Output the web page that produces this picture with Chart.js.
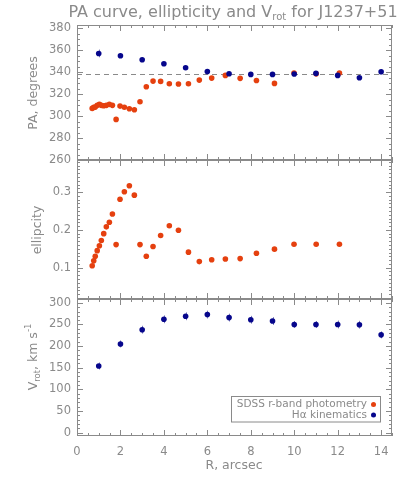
<!DOCTYPE html>
<html><head><meta charset="utf-8">
<script src="https://cdn.jsdelivr.net/npm/chart.js@4.4.1/dist/chart.umd.min.js"></script>
<style>
html,body{margin:0;padding:0;background:#fff;}
#wrap{position:relative;width:415px;height:485px;background:#fff;}
canvas{position:absolute;left:0;top:0;}
</style></head><body>
<div id="wrap">
<canvas id="c1" width="415" height="485"></canvas>
<canvas id="c2" width="415" height="485"></canvas>
<canvas id="c3" width="415" height="485"></canvas>
</div>
<script>
// ---------- data ----------
const photR   = [0.70,0.77,0.84,0.93,1.03,1.12,1.23,1.35,1.49,1.63,1.80,1.98,2.18,2.41,2.64,2.90,3.19,3.50,3.85,4.25,4.67,5.13,5.63,6.20,6.83,7.51,8.26,9.09,9.99,11.01,12.08];
const photPA  = [307.0,308.0,308.2,309.8,310.7,309.8,309.4,309.8,310.7,309.8,297.0,309.1,308.0,306.7,305.8,313.1,326.7,331.9,331.6,329.5,329.2,329.5,332.8,334.6,337.1,334.4,332.5,329.8,339.2,338.5,339.2];
const photEll = [0.105,0.118,0.130,0.145,0.158,0.172,0.190,0.208,0.220,0.242,0.161,0.281,0.301,0.317,0.292,0.161,0.130,0.156,0.185,0.211,0.199,0.141,0.116,0.121,0.123,0.124,0.138,0.149,0.162,0.162,0.162];
const haR     = [1,2,3,4,5,6,7,8,9,10,11,12,13,14];
const haPA    = [357.1,355.0,351.3,347.7,344.0,340.7,338.6,338.0,338.0,338.3,338.9,337.1,334.9,340.4];
const haPAerr = [3.5,2.0,1.8,1.5,1.5,1.5,1.5,1.5,1.5,1.5,1.5,1.8,2.0,2.2];
const haV     = [154,205,238,262,269,273,266,261,258,250,250,250,249.5,226];
const haVerr  = [8,8,9,9,9,9,9,9,9,8,8,9,9,8];
const paRef   = 338.3;
const xTicks   = [0,2,4,6,8,10,12,14];
const paTicks  = [260,280,300,320,340,360,380];
const ellTicks = [0.1,0.2,0.3];
const vTicks   = [0,50,100,150,200,250,300];
const legendLabels = ['SDSS r-band photometry','H\u03b1 kinematics'];

// ---------- style ----------
const GRAY = '#8a8a8a';
const RED = '#e5400f';
const BLUE = '#06068c';
const ERRC = '#7a7ab8';
const FONT = 'DejaVu Sans';
const X_MIN = 0, X_MAX = 14.5;

function pts(xs, ys){ return xs.map((x,i)=>({x:x, y:ys[i]})); }

const frameTicks = {
  id:'frameTicks',
  beforeDatasetsDraw(chart, args, o){
    const {ctx, chartArea:a} = chart;
    const x = chart.scales.x, y = chart.scales.y;
    ctx.save();
    ctx.strokeStyle = GRAY; ctx.lineWidth = 1;
    ctx.strokeRect(a.left+0.5, a.top+0.5, a.right-a.left-1, a.bottom-a.top-1);
    ctx.beginPath();
    const xs = 0.5, xm = 2;
    for (let k=Math.ceil(x.min/xs-1e-9); k<=Math.floor(x.max/xs+1e-9); k++){
      const v = k*xs;
      const px = Math.round(x.getPixelForValue(v))+0.5;
      const len = Math.abs(v/xm-Math.round(v/xm))<1e-6 ? 6 : 3;
      ctx.moveTo(px,a.bottom); ctx.lineTo(px,a.bottom-len);
      ctx.moveTo(px,a.top); ctx.lineTo(px,a.top+len);
    }
    const ys = o.yMinor;
    for (let k=Math.ceil(y.min/ys-1e-9); k<=Math.floor(y.max/ys+1e-9); k++){
      const v = k*ys;
      const py = Math.round(y.getPixelForValue(v))+0.5;
      const major = o.yMajor.some(t=>Math.abs(t-v)<ys*1e-3);
      const len = major ? 6 : 3;
      ctx.moveTo(a.left,py); ctx.lineTo(a.left+len,py);
      ctx.moveTo(a.right,py); ctx.lineTo(a.right-len,py);
    }
    ctx.stroke();
    // error bars
    chart.data.datasets.forEach(ds=>{
      if(!ds.errors) return;
      ctx.strokeStyle = ERRC; ctx.lineWidth = 1;
      ctx.beginPath();
      ds.data.forEach((p,i)=>{
        const px = Math.round(x.getPixelForValue(p.x))+0.5;
        ctx.moveTo(px, y.getPixelForValue(p.y+ds.errors[i]));
        ctx.lineTo(px, y.getPixelForValue(p.y-ds.errors[i]));
      });
      ctx.stroke();
    });
    // reference line
    if(o.refLine!==undefined){
      const py = Math.round(y.getPixelForValue(o.refLine))+0.5;
      ctx.strokeStyle = GRAY; ctx.setLineDash([5,4]); ctx.lineWidth=1;
      ctx.beginPath(); ctx.moveTo(a.left,py); ctx.lineTo(a.right,py); ctx.stroke();
      ctx.setLineDash([]);
    }
    ctx.restore();
  }
};

function drawSegs(ctx, segs, cx, cy, rotate){
  ctx.save();
  ctx.translate(cx, cy);
  if(rotate) ctx.rotate(-Math.PI/2);
  let total = 0;
  segs.forEach(s=>{ ctx.font = s.size+'px "'+FONT+'"'; s.w = ctx.measureText(s.t).width; total += s.w; });
  let xx = -total/2;
  ctx.fillStyle = GRAY; ctx.textBaseline = 'middle'; ctx.textAlign='left';
  segs.forEach(s=>{ ctx.font = s.size+'px "'+FONT+'"'; ctx.fillText(s.t, xx, s.dy||0); xx += s.w; });
  ctx.restore();
}

const textDecor = {
  id:'textDecor',
  afterDraw(chart, args, o){
    const ctx = chart.ctx;
    (o.items||[]).forEach(it=>drawSegs(ctx, it.segs, it.x, it.y, it.rot));
    if(o.legend){
      ctx.save();
      ctx.strokeStyle = GRAY; ctx.lineWidth = 1;
      ctx.strokeRect(231.5, 396.5, 149, 25.5);
      ctx.font = '10.5px "'+FONT+'"'; ctx.fillStyle = GRAY;
      ctx.textAlign='right'; ctx.textBaseline='middle';
      const cols = [RED, BLUE];
      legendLabels.forEach((l,i)=>{
        const yy = 404.5 + i*10.5;
        ctx.fillStyle = GRAY; ctx.fillText(l, 367, yy);
        ctx.fillStyle = cols[i]; ctx.beginPath(); ctx.arc(373.5, yy, 2.5, 0, Math.PI*2); ctx.fill();
      });
      ctx.restore();
    }
  }
};

function opts(yMin, yMax, yTicks, fmt, showX, pad, frame, decor){
  return {
    responsive:false, animation:false, devicePixelRatio:1,
    layout:{padding:pad},
    plugins:{legend:{display:false}, tooltip:{enabled:false}, frameTicks:frame, textDecor:decor},
    scales:{
      x:{type:'linear', min:X_MIN, max:X_MAX, display:showX,
        afterBuildTicks:s=>{s.ticks = xTicks.map(v=>({value:v}));},
        afterFit:s=>{s.height = showX ? 49 : 0;},
        grid:{display:false, drawTicks:false}, border:{display:false},
        ticks:{color:GRAY, font:{family:FONT, size:11.5}, padding:9, maxRotation:0, autoSkip:false, callback:v=>String(v)}},
      y:{type:'linear', min:yMin, max:yMax,
        afterBuildTicks:s=>{s.ticks = yTicks.map(v=>({value:v}));},
        afterFit:s=>{s.width = 77;},
        grid:{display:false, drawTicks:false}, border:{display:false},
        ticks:{color:GRAY, font:{family:FONT, size:11.5}, padding:6, autoSkip:false, callback:fmt}}
    }
  };
}
function ds(label, data, color, errors){
  const d = {label:label, data:data, showLine:false, pointRadius:2.8, pointHoverRadius:2.8,
    pointBorderWidth:0, backgroundColor:color, borderColor:color};
  if(errors) d.errors = errors;
  return d;
}

new Chart(document.getElementById('c1'), {
  type:'scatter',
  data:{datasets:[ ds(legendLabels[1], pts(haR, haPA), BLUE, haPAerr), ds(legendLabels[0], pts(photR, photPA), RED) ]},
  options: opts(260, 383, paTicks, v=>String(v), false, {left:0,right:23,top:25,bottom:325},
    {yMinor:5, yMajor:paTicks, refLine:paRef},
    {items:[
      {segs:[{t:'PA curve, ellipticity and V',size:16},{t:'rot',size:10,dy:4},{t:' for J1237+51',size:16}], x:233, y:13, rot:false},
      {segs:[{t:'PA, degrees',size:12.5}], x:33.5, y:93, rot:true}
    ]}),
  plugins:[frameTicks, textDecor]
});

new Chart(document.getElementById('c2'), {
  type:'scatter',
  data:{datasets:[ ds(legendLabels[0], pts(photR, photEll), RED) ]},
  options: opts(0.017, 0.385, ellTicks, v=>v.toFixed(1), false, {left:0,right:23,top:160,bottom:186},
    {yMinor:0.01, yMajor:ellTicks},
    {items:[{segs:[{t:'ellipcity',size:12.5}], x:38, y:230, rot:true}]}),
  plugins:[frameTicks, textDecor]
});

new Chart(document.getElementById('c3'), {
  type:'scatter',
  data:{datasets:[ ds(legendLabels[1], pts(haR, haV), BLUE, haVerr) ]},
  options: opts(-8, 309, vTicks, v=>String(v), true, {left:0,right:23,top:299,bottom:0},
    {yMinor:10, yMajor:vTicks},
    {legend:true, items:[
      {segs:[{t:'V',size:12.5},{t:'rot',size:8.5,dy:3.5},{t:', km s',size:12.5},{t:'-1',size:8.5,dy:-5}], x:34, y:357, rot:true},
      {segs:[{t:'R, arcsec',size:12.5}], x:234, y:466, rot:false}
    ]}),
  plugins:[frameTicks, textDecor]
});
</script>
</body></html>
